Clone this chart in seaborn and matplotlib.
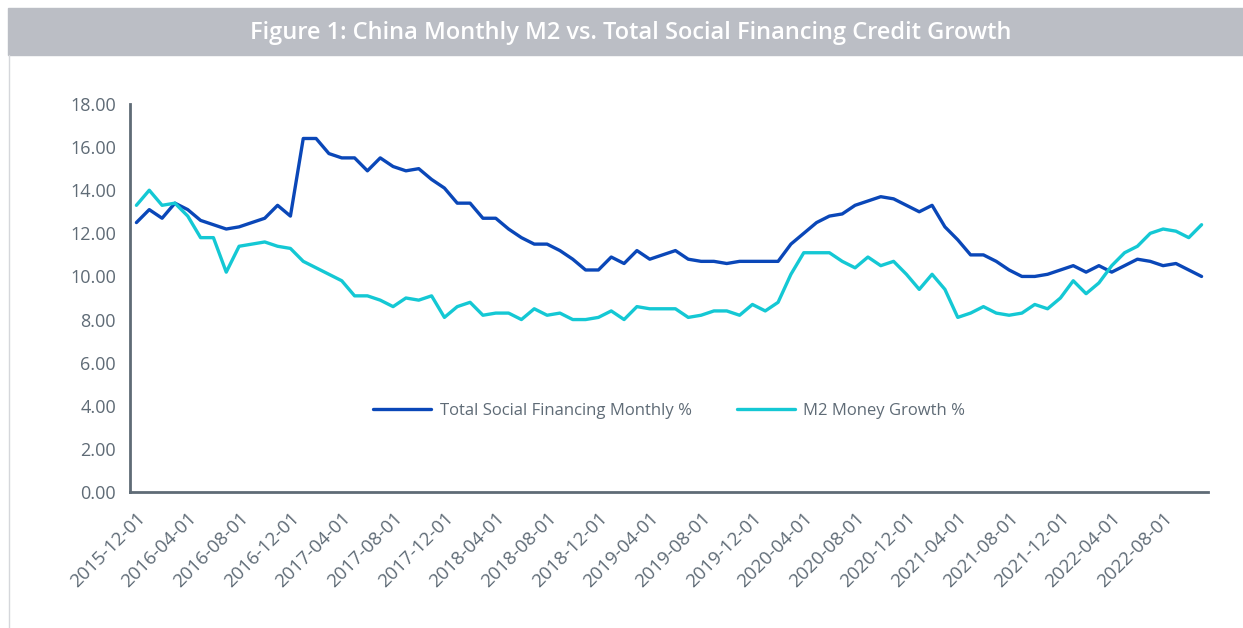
import pandas as pd
import matplotlib.pyplot as plt
import seaborn as sns

# Monthly data, 2015-12 .. 2022-11
months = pd.date_range("2015-12-01", periods=84, freq="MS").strftime("%Y-%m-%d").tolist()

tsf = [12.5, 13.1, 12.7, 13.4, 13.1, 12.6, 12.4, 12.2, 12.3, 12.5, 12.7, 13.3,
       12.8, 16.4, 16.4, 15.7, 15.5, 15.5, 14.9, 15.5, 15.1, 14.9, 15.0, 14.5,
       14.1, 13.4, 13.4, 12.7, 12.7, 12.2, 11.8, 11.5, 11.5, 11.2, 10.8, 10.3,
       10.3, 10.9, 10.6, 11.2, 10.8, 11.0, 11.2, 10.8, 10.7, 10.7, 10.6, 10.7,
       10.7, 10.7, 10.7, 11.5, 12.0, 12.5, 12.8, 12.9, 13.3, 13.5, 13.7, 13.6,
       13.3, 13.0, 13.3, 12.3, 11.7, 11.0, 11.0, 10.7, 10.3, 10.0, 10.0, 10.1,
       10.3, 10.5, 10.2, 10.5, 10.2, 10.5, 10.8, 10.7, 10.5, 10.6, 10.3, 10.0]

m2 = [13.3, 14.0, 13.3, 13.4, 12.8, 11.8, 11.8, 10.2, 11.4, 11.5, 11.6, 11.4,
      11.3, 10.7, 10.4, 10.1, 9.8, 9.1, 9.1, 8.9, 8.6, 9.0, 8.9, 9.1,
      8.1, 8.6, 8.8, 8.2, 8.3, 8.3, 8.0, 8.5, 8.2, 8.3, 8.0, 8.0,
      8.1, 8.4, 8.0, 8.6, 8.5, 8.5, 8.5, 8.1, 8.2, 8.4, 8.4, 8.2,
      8.7, 8.4, 8.8, 10.1, 11.1, 11.1, 11.1, 10.7, 10.4, 10.9, 10.5, 10.7,
      10.1, 9.4, 10.1, 9.4, 8.1, 8.3, 8.6, 8.3, 8.2, 8.3, 8.7, 8.5,
      9.0, 9.8, 9.2, 9.7, 10.5, 11.1, 11.4, 12.0, 12.2, 12.1, 11.8, 12.4]

series_names = ["Total Social Financing Monthly %", "M2 Money Growth %"]
colors = ["#0A47B8", "#14C8D4"]

df = pd.DataFrame({"idx": range(len(months)), "Month": months,
                   series_names[0]: tsf, series_names[1]: m2})
long = df.melt(id_vars=["idx", "Month"], var_name="Series", value_name="Value")

sns.set_style("white")
plt.rcParams["font.family"] = ["Open Sans", "DejaVu Sans"]
grey = "#5F6B76"

fig = plt.figure(figsize=(12.43, 6.28), dpi=100)

# Title banner
fig.patches.append(plt.Rectangle((8 / 1243, 1 - 55 / 628), 1, 47 / 628,
                                 transform=fig.transFigure, color="#BBBEC5", zorder=0))
fig.lines.append(plt.Line2D([8.5 / 1243, 8.5 / 1243], [0, 1 - 55 / 628],
                            transform=fig.transFigure, color="#D5D7DB", lw=1))
fig.text(631 / 1243, 1 - 33 / 628, "Figure 1: China Monthly M2 vs. Total Social Financing Credit Growth",
         ha="center", va="center", color="white", fontsize=17, fontweight="semibold")

ax = fig.add_axes([130 / 1243, 1 - 492 / 628, 1078 / 1243, 388 / 628])
sns.lineplot(data=long, x="idx", y="Value", hue="Series", palette=colors,
             linewidth=2.4, ax=ax)

ax.set_xlim(-0.5, len(months) - 0.5)
ax.set_ylim(0, 18)
ax.set_yticks(range(0, 19, 2))
ax.set_yticklabels([f"{v:.2f}" for v in range(0, 19, 2)])
ticks = list(range(0, len(months), 4))
ax.set_xticks(ticks)
ax.set_xticklabels([months[i] for i in ticks], rotation=45, ha="right", va="top",
                   rotation_mode="anchor")
ax.tick_params(axis="both", colors=grey, length=0)
ax.tick_params(axis="y", pad=10, labelsize=13)
ax.tick_params(axis="x", pad=12, labelsize=13.5)
ax.set_xlabel("")
ax.set_ylabel("")
for s in ["top", "right"]:
    ax.spines[s].set_visible(False)
for s in ["left", "bottom"]:
    ax.spines[s].set_color(grey)
    ax.spines[s].set_linewidth(2)

leg = ax.legend(loc="center", bbox_to_anchor=(0.5, 0.209), ncol=2, frameon=False,
                fontsize=12, handlelength=3.5, columnspacing=2.7, handletextpad=0.5)
for t in leg.get_texts():
    t.set_color(grey)

fig.savefig("out.png", dpi=100)
